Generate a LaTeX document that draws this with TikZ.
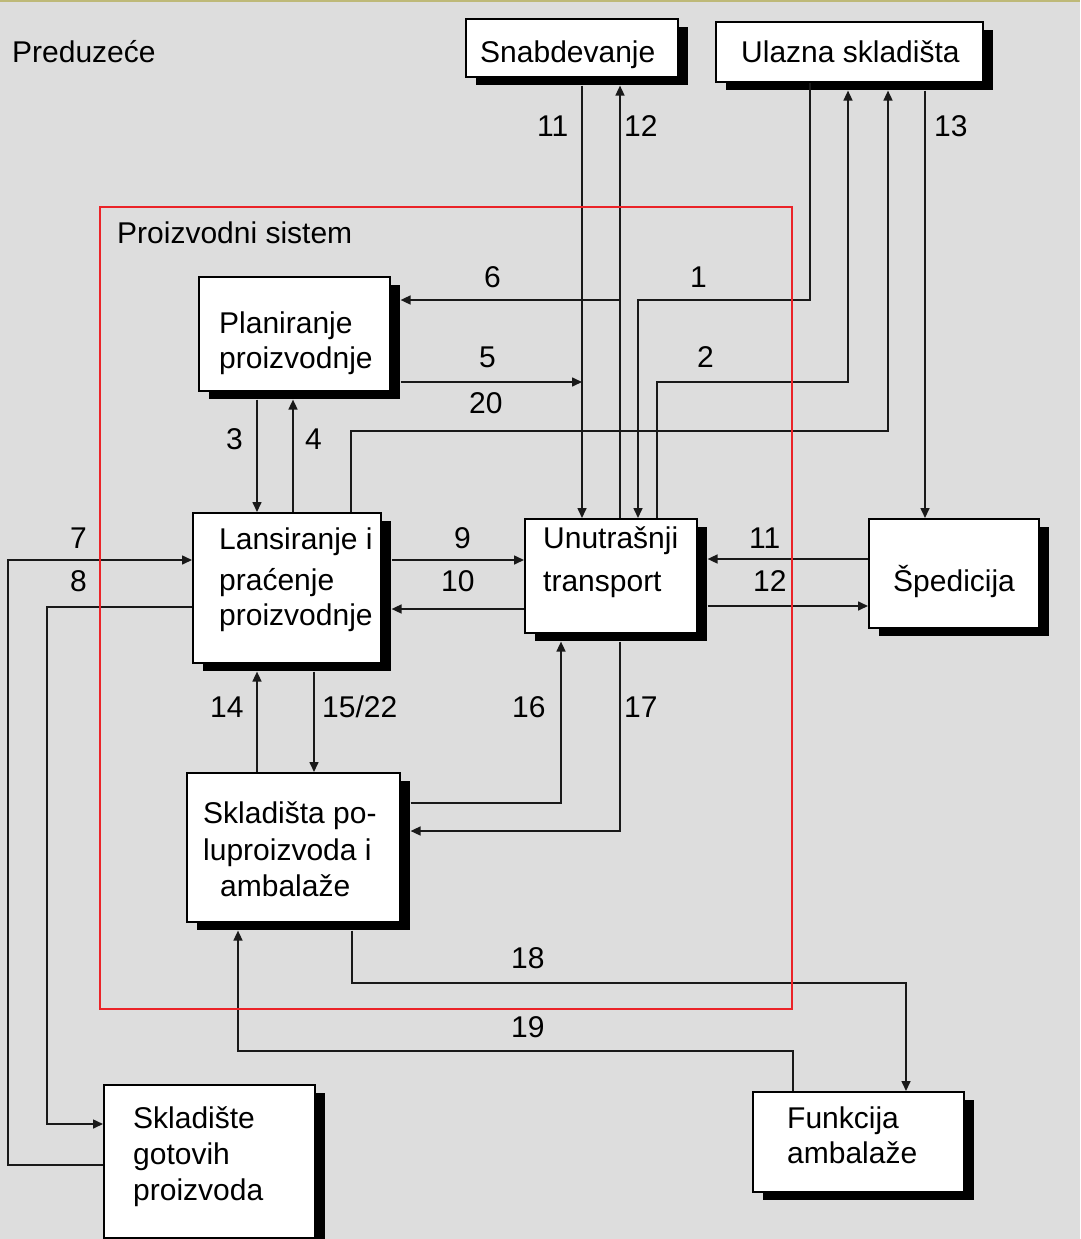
\documentclass[tikz,border=0pt]{standalone}
\usepackage{fontspec}
\setmainfont{Liberation Sans}
\usetikzlibrary{arrows.meta,shadows}
\definecolor{bg}{RGB}{221,221,221}
\definecolor{sysred}{RGB}{235,35,40}
\definecolor{rim}{RGB}{190,185,120}
\definecolor{wirec}{RGB}{25,25,25}

\begin{document}
\begin{tikzpicture}[x=1pt,y=-1pt,
  blok/.style={draw=black,line width=1.6pt,fill=white,inner sep=0pt,anchor=north west,
    drop shadow={shadow xshift=10pt,shadow yshift=-8pt,fill=black,opacity=1}},
  txt/.style={anchor=base west,inner sep=0pt,font=\fontsize{30}{36}\selectfont},
  wire/.style={draw=wirec,line width=1.6pt},
  arr/.style={wire,-{Triangle[length=10pt,width=9pt]}},
]
% canvas
\fill[bg] (0,0) rectangle (1080,1239);
\useasboundingbox (0,0) rectangle (1080,1239);
\draw[rim,line width=2pt] (0,1) -- (1080,1);

% blocks
\node[blok,minimum width=212pt,minimum height=58pt]  (snab)  at (465,18)   {};
\node[blok,minimum width=267pt,minimum height=60pt]  (ulaz)  at (715,21)   {};
\node[blok,minimum width=191pt,minimum height=114pt] (plan)  at (198,276)  {};
\node[blok,minimum width=188pt,minimum height=150pt] (lans)  at (192,512)  {};
\node[blok,minimum width=172pt,minimum height=114pt] (unut)  at (524,518)  {};
\node[blok,minimum width=170pt,minimum height=109pt] (sped)  at (868,518)  {};
\node[blok,minimum width=213pt,minimum height=149pt] (skpol) at (186,772)  {};
\node[blok,minimum width=211pt,minimum height=153pt] (skgot) at (103,1084) {};
\node[blok,minimum width=211pt,minimum height=100pt] (funk)  at (752,1091) {};

% outer edges of the shadows
\coordinate (snab-sb)  at ([yshift=-8pt]snab.south);
\coordinate (ulaz-sb)  at ([yshift=-8pt]ulaz.south);
\coordinate (plan-sb)  at ([yshift=-8pt]plan.south);
\coordinate (plan-sr)  at ([xshift=10pt]plan.east);
\coordinate (lans-sb)  at ([yshift=-8pt]lans.south);
\coordinate (lans-sr)  at ([xshift=10pt]lans.east);
\coordinate (unut-sb)  at ([yshift=-8pt]unut.south);
\coordinate (unut-sr)  at ([xshift=10pt]unut.east);
\coordinate (skpol-sb) at ([yshift=-8pt]skpol.south);
\coordinate (skpol-sr) at ([xshift=10pt]skpol.east);
\coordinate (j6) at (620,300);
\coordinate (j5) at (582,382);

% block texts
\node[txt] (t-pred) at (12,63)  {Preduzeće};
\node[txt] (t-sist) at (117,243) {Proizvodni sistem};
\node[txt] (t-snab) at (480,63)  {Snabdevanje};
\node[txt] (t-ulaz) at (741,63)  {Ulazna skladišta};
\node[txt] (t-plan1) at (219,333) {Planiranje};
\node[txt] (t-plan2) at (219,368) {proizvodnje};
\node[txt] (t-lans1) at (219,549) {Lansiranje i};
\node[txt] (t-lans2) at (219,590) {praćenje};
\node[txt] (t-lans3) at (219,625) {proizvodnje};
\node[txt] (t-unut1) at (543,548) {Unutrašnji};
\node[txt] (t-unut2) at (543,591) {transport};
\node[txt] (t-sped)  at (893,591) {Špedicija};
\node[txt] (t-skpol1) at (203,823) {Skladišta po-};
\node[txt] (t-skpol2) at (203,860) {luproizvoda i};
\node[txt] (t-skpol3) at (220,896) {ambalaže};
\node[txt] (t-skgot1) at (133,1128) {Skladište};
\node[txt] (t-skgot2) at (133,1164) {gotovih};
\node[txt] (t-skgot3) at (133,1200) {proizvoda};
\node[txt] (t-funk1) at (787,1128) {Funkcija};
\node[txt] (t-funk2) at (787,1163) {ambalaže};

% flows
\draw[arr] (snab-sb -| 582,0) -- (unut.north -| 582,0);
\draw[arr] (unut.north -| 620,0) -- (snab-sb -| 620,0);
\draw[arr] (ulaz.south -| 810,0) |- (638,300) -- (unut.north -| 638,0);
\draw[arr] (unut.north -| 657,0) |- (848,382) -- (ulaz-sb -| 848,0);
\draw[arr] (lans.north -| 351,0) |- (888,431) -- (ulaz-sb -| 888,0);
\draw[arr] (ulaz-sb -| 925,0) -- (sped.north -| 925,0);
\draw[arr] (j6) -- (plan-sr |- j6);
\draw[arr] (plan-sr |- j5) -- (j5);
\draw[arr] (plan-sb -| 257,0) -- (lans.north -| 257,0);
\draw[arr] (lans.north -| 293,0) -- (plan-sb -| 293,0);
\draw[arr] (lans-sr |- 0,560) -- (unut.west |- 0,560);
\draw[arr] (unut.west |- 0,609) -- (lans-sr |- 0,609);
\draw[arr] (sped.west |- 0,559) -- (unut-sr |- 0,559);
\draw[arr] (unut-sr |- 0,606) -- (sped.west |- 0,606);
\draw[arr] (skgot.west |- 0,1165) -| (8,560) -- (lans.west |- 0,560);
\draw[arr] (lans.west |- 0,607) -| (47,1124) -- (skgot.west |- 0,1124);
\draw[arr] (skpol.north -| 257,0) -- (lans-sb -| 257,0);
\draw[arr] (lans-sb -| 314,0) -- (skpol.north -| 314,0);
\draw[arr] (skpol-sr |- 0,803) -| (unut-sb -| 561,0);
\draw[arr] (unut-sb -| 620,0) |- (skpol-sr |- 0,831);
\draw[arr] (skpol-sb -| 352,0) |- (906,983) -- (funk.north -| 906,0);
\draw[arr] (funk.north -| 793,0) |- (238,1051) -- (skpol-sb -| 238,0);

% flow numbers
\node[txt] (n11a) at (537,136) {11};
\node[txt] (n12a) at (624,136) {12};
\node[txt] (n13)  at (934,136) {13};
\node[txt] (n6)   at (484,287) {6};
\node[txt] (n1)   at (690,287) {1};
\node[txt] (n5)   at (479,367) {5};
\node[txt] (n2)   at (697,367) {2};
\node[txt] (n20)  at (469,413) {20};
\node[txt] (n3)   at (226,449) {3};
\node[txt] (n4)   at (305,449) {4};
\node[txt] (n7)   at (70,548)  {7};
\node[txt] (n8)   at (70,591)  {8};
\node[txt] (n9)   at (454,548) {9};
\node[txt] (n10)  at (441,591) {10};
\node[txt] (n11b) at (749,548) {11};
\node[txt] (n12b) at (753,591) {12};
\node[txt] (n14)  at (210,717) {14};
\node[txt] (n15)  at (322,717) {15/22};
\node[txt] (n16)  at (512,717) {16};
\node[txt] (n17)  at (624,717) {17};
\node[txt] (n18)  at (511,968) {18};
\node[txt] (n19)  at (511,1037) {19};

% boundary of the production system
\draw[sysred,line width=2pt] (100,207) rectangle (792,1009);
\end{tikzpicture}
\end{document}
